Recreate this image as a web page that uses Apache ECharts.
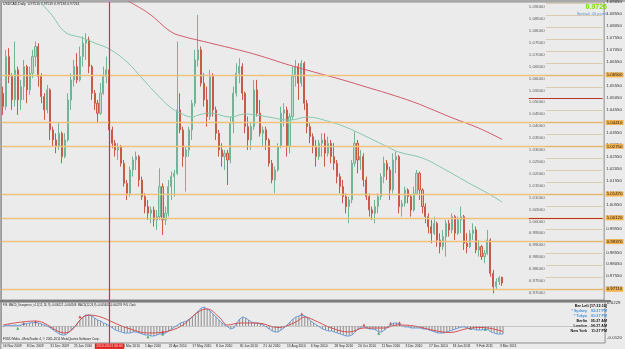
<!DOCTYPE html>
<html>
<head>
<meta charset="utf-8">
<script src="https://cdn.jsdelivr.net/npm/echarts@6.0.0/dist/echarts.min.js"></script>
<style>
html, body { margin: 0; padding: 0; background: #ebebeb; }
#chart { width: 625px; height: 349px; }
</style>
</head>
<body>
<div id="chart"></div>
<script>
// one slot = 2 trading days, 204 slots across the window (chart shift on the right)
var slotCount = 204;

var dateLabels = ['16 Nov 2009', '8 Dec 2009', '31 Dec 2009', '25 Jan 2010', '16 Feb 2010', '10 Mar 2010',
  '1 Apr 2010', '22 Apr 2010', '17 May 2010', '8 Jun 2010', '30 Jun 2010', '21 Jul 2010', '13 Aug 2010',
  '6 Sep 2010', '28 Sep 2010', '20 Oct 2010', '11 Nov 2010', '3 Dec 2010', '27 Dec 2010', '18 Jan 2011',
  '9 Feb 2011', '3 Mar 2011'];

var barOpen = [
  1.0523,1.0467,1.0677,1.0593,1.0495,1.0621,1.0495,1.0551,1.0635,1.0537,
  1.0607,1.0677,1.0719,1.0593,1.0509,1.0453,1.0537,1.0369,1.0327,1.0299,
  1.0355,1.0257,1.0327,1.0495,1.0579,1.0635,1.0579,1.0677,1.0733,1.0747,
  1.0635,1.0523,1.0481,1.0439,1.0523,1.0593,1.0621,1.0369,1.0313,1.0285,
  1.0299,1.0229,1.0145,1.0103,1.0201,1.0243,1.0257,1.0159,1.0089,1.0047,
  1.0019,1.0033,0.9991,1.0005,1.0131,0.9991,1.0019,1.0131,1.0173,1.0187,
  1.0453,1.0369,1.0257,1.0285,1.0369,1.0481,1.0663,1.0705,1.0565,1.0495,
  1.0425,1.0593,1.0453,1.0355,1.0285,1.0257,1.0271,1.0243,1.0397,1.0523,
  1.0607,1.0635,1.0523,1.0383,1.0327,1.0383,1.0537,1.0439,1.0355,1.0369,
  1.0327,1.0229,1.0159,1.0201,1.0299,1.0439,1.0453,1.0299,1.0425,1.0593,
  1.0635,1.0565,1.0649,1.0481,1.0383,1.0341,1.0299,1.0257,1.0313,1.0327,
  1.0271,1.0313,1.0257,1.0229,1.0173,1.0131,1.0089,1.0047,1.0075,1.0229,
  1.0313,1.0243,1.0257,1.0159,1.0089,1.0033,1.0019,1.0047,1.0089,1.0173,
  1.0229,1.0201,1.0117,1.0243,1.0257,1.0047,1.0061,1.0117,1.0089,1.0033,
  1.0103,1.0187,1.0117,1.0047,1.0005,0.9963,0.9935,0.9977,0.9907,0.9879,
  0.9921,0.9977,0.9949,1.0005,0.9935,0.9991,1.0005,0.9893,0.9879,0.9935,
  0.9949,0.9865,0.9879,0.9837,0.9851,0.9907,0.9767,0.9711,0.9732,0.9751
];
var barClose = [
  1.0467,1.0677,1.0593,1.0495,1.0621,1.0495,1.0551,1.0635,1.0537,1.0607,
  1.0677,1.0719,1.0593,1.0509,1.0453,1.0537,1.0369,1.0327,1.0299,1.0355,
  1.0257,1.0327,1.0495,1.0579,1.0635,1.0579,1.0677,1.0733,1.0747,1.0635,
  1.0523,1.0481,1.0439,1.0523,1.0593,1.0621,1.0369,1.0313,1.0285,1.0299,
  1.0229,1.0145,1.0103,1.0201,1.0243,1.0257,1.0159,1.0089,1.0047,1.0019,
  1.0033,0.9991,1.0005,1.0131,0.9991,1.0019,1.0131,1.0173,1.0187,1.0453,
  1.0369,1.0257,1.0285,1.0369,1.0481,1.0663,1.0705,1.0565,1.0495,1.0425,
  1.0593,1.0453,1.0355,1.0285,1.0257,1.0271,1.0243,1.0397,1.0523,1.0607,
  1.0635,1.0523,1.0383,1.0327,1.0383,1.0537,1.0439,1.0355,1.0369,1.0327,
  1.0229,1.0159,1.0201,1.0299,1.0439,1.0453,1.0299,1.0425,1.0593,1.0635,
  1.0565,1.0649,1.0481,1.0383,1.0341,1.0299,1.0257,1.0313,1.0327,1.0271,
  1.0313,1.0257,1.0229,1.0173,1.0131,1.0089,1.0047,1.0075,1.0229,1.0313,
  1.0243,1.0257,1.0159,1.0089,1.0033,1.0019,1.0047,1.0089,1.0173,1.0229,
  1.0201,1.0117,1.0243,1.0257,1.0047,1.0061,1.0117,1.0089,1.0033,1.0103,
  1.0187,1.0117,1.0047,1.0005,0.9963,0.9935,0.9977,0.9907,0.9879,0.9921,
  0.9977,0.9949,1.0005,0.9935,0.9991,1.0005,0.9893,0.9879,0.9935,0.9949,
  0.9865,0.9879,0.9837,0.9851,0.9907,0.9767,0.9711,0.9732,0.9748,0.9726
];
var barHigh = [
  1.0551,1.0705,1.0712,1.0607,1.0740,1.0635,1.0579,1.0663,1.0642,1.0635,
  1.0705,1.0740,1.0733,1.0607,1.0523,1.0558,1.0544,1.0383,1.0355,1.0397,
  1.0362,1.0355,1.0523,1.0607,1.0663,1.0691,1.0719,1.0761,1.0775,1.0761,
  1.0642,1.0537,1.0495,1.0565,1.0635,1.0677,1.0635,1.0383,1.0327,1.0313,
  1.0306,1.0243,1.0159,1.0215,1.0257,1.0278,1.0264,1.0173,1.0103,1.0075,
  1.0047,1.0047,1.0033,1.0208,1.0145,1.0047,1.0159,1.0194,1.0201,1.0740,
  1.0523,1.0383,1.0299,1.0383,1.0495,1.0705,1.0852,1.0719,1.0607,1.0551,
  1.0621,1.0607,1.0467,1.0369,1.0313,1.0285,1.0285,1.0425,1.0551,1.0649,
  1.0670,1.0649,1.0530,1.0425,1.0397,1.0579,1.0579,1.0495,1.0383,1.0383,
  1.0334,1.0243,1.0215,1.0313,1.0467,1.0481,1.0467,1.0439,1.0635,1.0663,
  1.0649,1.0663,1.0656,1.0495,1.0397,1.0355,1.0327,1.0327,1.0355,1.0355,
  1.0341,1.0327,1.0313,1.0243,1.0187,1.0159,1.0103,1.0089,1.0243,1.0362,
  1.0327,1.0285,1.0271,1.0173,1.0103,1.0047,1.0075,1.0103,1.0187,1.0257,
  1.0243,1.0215,1.0271,1.0278,1.0264,1.0075,1.0131,1.0124,1.0096,1.0131,
  1.0201,1.0194,1.0124,1.0061,1.0019,0.9991,1.0005,0.9984,0.9935,0.9949,
  0.9991,0.9991,1.0019,1.0012,1.0005,1.0047,1.0012,0.9935,0.9949,0.9977,
  0.9963,0.9907,0.9886,0.9865,0.9949,0.9914,0.9781,0.9746,0.9755,0.9752
];
var barLow = [
  1.0432,1.0453,1.0565,1.0453,1.0467,1.0432,1.0453,1.0495,1.0481,1.0516,
  1.0586,1.0635,1.0551,1.0481,1.0411,1.0439,1.0327,1.0299,1.0271,1.0285,
  1.0229,1.0250,1.0320,1.0453,1.0551,1.0565,1.0572,1.0635,1.0663,1.0607,
  1.0495,1.0453,1.0397,1.0432,1.0516,1.0565,1.0355,1.0292,1.0257,1.0243,
  1.0215,1.0131,1.0075,1.0089,1.0173,1.0201,1.0131,1.0075,1.0019,0.9991,
  0.9977,0.9963,0.9949,0.9991,0.9928,0.9970,1.0005,1.0075,1.0089,1.0180,
  1.0355,1.0215,1.0110,1.0257,1.0327,1.0467,1.0635,1.0551,1.0467,1.0383,
  1.0411,1.0425,1.0327,1.0257,1.0215,1.0201,1.0138,1.0229,1.0355,1.0509,
  1.0565,1.0495,1.0355,1.0285,1.0285,1.0369,1.0425,1.0341,1.0299,1.0285,
  1.0215,1.0145,1.0103,1.0194,1.0292,1.0383,1.0257,1.0271,1.0411,1.0551,
  1.0495,1.0551,1.0453,1.0355,1.0313,1.0271,1.0215,1.0243,1.0257,1.0215,
  1.0257,1.0229,1.0201,1.0145,1.0103,1.0061,1.0019,0.9977,1.0061,1.0215,
  1.0187,1.0201,1.0131,1.0075,1.0005,0.9991,0.9977,1.0019,1.0075,1.0145,
  1.0159,1.0075,1.0103,1.0187,1.0019,1.0005,1.0047,1.0061,1.0005,1.0026,
  1.0096,1.0075,1.0019,0.9977,0.9935,0.9893,0.9928,0.9879,0.9851,0.9865,
  0.9837,0.9921,0.9935,0.9907,0.9928,0.9935,0.9865,0.9851,0.9872,0.9907,
  0.9851,0.9837,0.9823,0.9809,0.9844,0.9753,0.9683,0.9697,0.9718,0.9714
];

// moving averages, read at a few slots
var maSlowSlot = [40, 49, 57, 62, 66, 73, 80, 86, 97, 105, 115, 123, 130, 139, 146, 152, 161, 169];
var maSlowVal = [1.0925, 1.0861, 1.0780, 1.0758, 1.0746, 1.0725, 1.0704, 1.0684, 1.0641, 1.0613, 1.0579,
  1.0549, 1.0523, 1.0486, 1.0451, 1.0420, 1.0377, 1.0329];
var maFastSlot = [10, 16, 21, 27, 31, 36, 42, 47, 53, 57, 60, 64, 66, 70, 77, 82, 86, 90, 97, 103, 111, 116,
  122, 129, 134, 142, 150, 159, 164, 169];
var maFastVal = [1.0935, 1.0860, 1.0780, 1.0755, 1.0734, 1.0709, 1.0654, 1.0587, 1.0507, 1.0461, 1.0440,
  1.0423, 1.0431, 1.0440, 1.0423, 1.0436, 1.0431, 1.0423, 1.0410, 1.0423, 1.0402, 1.0381, 1.0347, 1.0305,
  1.0276, 1.0251, 1.0200, 1.0137, 1.0104, 1.0066];

// price levels drawn at the right, and support/resistance lines
var levelValues = [1.09, 1.085, 1.08, 1.075, 1.07, 1.065, 1.06, 1.055, 1.05, 1.045, 1.04, 1.035, 1.03,
  1.025, 1.02, 1.015, 1.01, 1.005, 1.00, 0.995, 0.99, 0.985, 0.98, 0.975, 0.97];
var redLevels = [1.05, 1.00];
var srLevels = [1.0650, 1.0441, 1.0275, 1.0147, 1.0012, 0.9937, 0.9711];
var bidPrice = 0.97261;
var priceTicks = [0.9705, 0.9755, 0.9805, 0.9855, 0.9905, 0.9955, 1.0005, 1.0055, 1.0105, 1.0155, 1.0205,
  1.0255, 1.0305, 1.0355, 1.0405, 1.0455, 1.0505, 1.0555, 1.0605, 1.0655, 1.0705, 1.0755, 1.0805, 1.0855, 1.0905];

// MACD histogram per slot
var macdValues = [
  -0.0005,0.0005,0.001,0.0005,0.001,0.0005,0.001,0.002,0.0025,0.003,
  0.0035,0.004,0.003,0.002,0.001,0,-0.002,-0.004,-0.006,-0.008,
  -0.009,-0.009,-0.007,-0.004,-0.001,0.002,0.006,0.009,0.011,0.011,
  0.010,0.008,0.006,0.005,0.003,0.002,0,-0.002,-0.004,-0.005,
  -0.006,-0.007,-0.007,-0.007,-0.006,-0.006,-0.007,-0.008,-0.009,-0.009,
  -0.010,-0.010,-0.009,-0.008,-0.008,-0.007,-0.005,-0.003,-0.001,0.001,
  0.003,0.004,0.005,0.007,0.009,0.012,0.015,0.018,0.019,0.017,
  0.015,0.012,0.009,0.006,0.003,0.001,-0.001,-0.003,-0.002,0.003,
  0.007,0.009,0.008,0.006,0.004,0.003,0.003,0.002,0.001,-0.001,
  -0.003,-0.005,-0.006,-0.006,-0.004,-0.002,0.001,0.004,0.007,0.009,
  0.010,0.011,0.010,0.008,0.005,0.003,0.001,-0.001,-0.003,-0.004,
  -0.005,-0.005,-0.006,-0.007,-0.008,-0.009,-0.010,-0.010,-0.009,-0.006,
  -0.003,-0.001,-0.001,-0.002,-0.003,-0.003,-0.004,-0.006,-0.006,-0.004,
  -0.001,0.001,0.003,0.003,0.002,0,-0.001,-0.001,-0.002,-0.002,
  -0.002,-0.002,-0.003,-0.003,-0.004,-0.005,-0.006,-0.007,-0.007,-0.007,
  -0.006,-0.005,-0.004,-0.003,-0.002,-0.001,-0.001,-0.002,-0.003,-0.003,
  -0.004,-0.004,-0.004,-0.003,-0.004,-0.006,-0.007,-0.008,-0.008,-0.008
];
var signalSlot = [0, 11, 21, 29, 42, 49, 59, 66, 69, 73, 76, 80, 86, 93, 99, 102, 105, 111, 117, 122, 129,
  133, 139, 145, 151, 157, 162, 169];
var signalVal = [0.001, 0.005, -0.007, 0.011, -0.002, -0.007, -0.002, 0.014, 0.017, 0.009, 0.001, 0.003, 0.003,
  -0.0015, 0.004, 0.009, 0.006, -0.002, -0.006, -0.002, -0.002, 0.001, 0, -0.004, -0.0065, -0.0025, -0.0015, -0.0055];
var macdTicks = [0.0229, -0.012];
var upArrows = [[7, 0.0027], [11, 0.0043], [26, 0.0093], [54, -0.0057], [101, 0.012], [122, 0.001], [131, 0.0027], [134, 0.0033]];
var downArrows = [[5, -0.0023], [49, -0.0107], [54, -0.008], [127, -0.0073], [158, -0.0023], [163, -0.0033]];

var markerSlot = 36; // 2010.03.01
var levelLabelSlot = 178, levelLineSlot = 184, lastSlot = slotCount - 1;

var font = 'Liberation Sans';
var chart = echarts.init(document.getElementById('chart'));

var slotNames = [];
for (var i = 0; i < slotCount; i++) slotNames.push(String(i));
var candles = barOpen.map(function (o, i) { return [o, barClose[i], barLow[i], barHigh[i]]; });
function pairs(xs, ys) { return xs.map(function (x, i) { return [x, ys[i]]; }); }

var gridBase = { left: 1.5, right: 15, show: true, backgroundColor: '#ebebeb', borderColor: '#8f8f8f', borderWidth: 1 };
var markerStyle = { color: '#e62a2a', width: 1.2, type: 'solid', opacity: 1 };
var markerLine = { silent: true, symbol: ['none', 'none'], animation: false, lineStyle: markerStyle };

function clockText(x, y, text, color, align) {
  return { type: 'text', x: x, y: y, silent: true,
    style: { text: text, fill: color, font: 'bold 3.7px ' + font, textAlign: align || 'right', textVerticalAlign: 'middle' } };
}

var option = {
  animation: false,
  backgroundColor: '#ebebeb',
  grid: [
    Object.assign({ top: 2, height: 298 }, gridBase),
    Object.assign({ top: 302, height: 41 }, gridBase)
  ],
  xAxis: [
    { type: 'category', gridIndex: 0, data: slotNames, axisLine: { show: false }, axisTick: { show: false }, axisLabel: { show: false }, splitLine: { show: false } },
    { type: 'category', gridIndex: 1, data: slotNames, axisLine: { show: false }, axisTick: { show: false }, splitLine: { show: false },
      axisLabel: { interval: 7, align: 'left', margin: 1.2, fontSize: 3.3, color: '#222', fontFamily: font,
        formatter: function (v) { var i = Number(v); return (i % 8 === 0 && dateLabels[i / 8]) ? dateLabels[i / 8] : ''; } } }
  ],
  yAxis: [
    { type: 'value', gridIndex: 0, position: 'right', min: 0.9655, max: 1.0906, splitLine: { show: false },
      axisLine: { show: false }, axisTick: { show: false },
      axisLabel: { customValues: priceTicks, margin: 2, fontSize: 4.4, color: '#333', fontFamily: font,
        formatter: function (v) { return v.toFixed(5); } } },
    { type: 'value', gridIndex: 1, position: 'right', min: -0.017, max: 0.024, splitLine: { show: false },
      axisLine: { show: false }, axisTick: { show: false },
      axisLabel: { customValues: macdTicks, margin: 2, fontSize: 4.4, color: '#333', fontFamily: font,
        formatter: function (v) { return v.toFixed(4); } } }
  ],
  series: [
    {
      type: 'candlestick', xAxisIndex: 0, yAxisIndex: 0, data: candles, barWidth: 1.6,
      itemStyle: { color: '#bcdccb', color0: '#ecb7aa', borderColor: '#72b496', borderColor0: '#c95a47', borderWidth: 1 },
      markLine: {
        silent: true, symbol: ['none', 'none'], animation: false,
        data: srLevels.map(function (v) {
          return { yAxis: v, lineStyle: { color: '#f0c27e', width: 1.3, type: 'solid' },
            label: { show: true, position: 'end', distance: 1.5, formatter: v.toFixed(5), fontSize: 4.4, fontFamily: font,
              color: '#222', backgroundColor: '#f4b24c', padding: [0.5, 1] } };
        }).concat([
          { yAxis: bidPrice, lineStyle: { opacity: 0 },
            label: { show: true, position: 'end', distance: 1.5, formatter: bidPrice.toFixed(5), fontSize: 4.4, fontFamily: font,
              color: '#fff', backgroundColor: '#000', padding: [0.5, 1] } }
        ])
      }
    },
    { type: 'line', xAxisIndex: 0, yAxisIndex: 0, data: pairs(maSlowSlot, maSlowVal), smooth: 0.4, showSymbol: false,
      lineStyle: { color: '#d05c6c', width: 1 }, silent: true,
      markLine: Object.assign({ label: { show: false }, data: [{ xAxis: markerSlot, lineStyle: markerStyle }] }, markerLine) },
    { type: 'line', xAxisIndex: 0, yAxisIndex: 0, data: pairs(maFastSlot, maFastVal), smooth: 0.4, showSymbol: false,
      lineStyle: { color: '#86c8aa', width: 1 }, silent: true },
    {
      type: 'scatter', xAxisIndex: 0, yAxisIndex: 0, silent: true,
      data: levelValues.map(function (v) { return [levelLabelSlot, v]; }),
      symbolSize: 0.01, itemStyle: { color: 'rgba(0,0,0,0)' },
      label: { show: true, position: 'right', distance: 0, offset: [0, 3.5], fontSize: 4.4, color: '#3a3a3a', fontFamily: font,
        formatter: function (p) { return p.value[1].toFixed(5); } },
      markLine: {
        silent: true, symbol: ['none', 'none'], animation: false, label: { show: false },
        data: levelValues.map(function (v) {
          var red = redLevels.indexOf(v) >= 0;
          return [
            { coord: [red ? levelLabelSlot : levelLineSlot, v],
              lineStyle: red ? { color: '#b8322c', width: 1.2, type: 'solid' } : { color: '#c9ad76', width: 1, type: 'dotted' } },
            { coord: [lastSlot, v] }
          ];
        })
      }
    },
    {
      type: 'bar', xAxisIndex: 1, yAxisIndex: 1, data: macdValues, barWidth: 1, silent: true,
      itemStyle: { color: '#8c8c8c' },
      markLine: {
        silent: true, symbol: ['none', 'none'], animation: false,
        data: [{ yAxis: 0, lineStyle: { color: '#a0a0a0', width: 1, type: 'dotted' }, label: { show: false } }]
      }
    },
    { type: 'line', xAxisIndex: 1, yAxisIndex: 1, data: macdValues, showSymbol: false, silent: true,
      lineStyle: { color: '#4f8fde', width: 0.8 } },
    { type: 'line', xAxisIndex: 1, yAxisIndex: 1, data: pairs(signalSlot, signalVal), smooth: 0.4, showSymbol: false, silent: true,
      lineStyle: { color: '#d84040', width: 0.9 },
      markLine: Object.assign({
        label: { show: true, position: 'start', distance: 0.5, formatter: '2010.03.01 00:00', fontSize: 3.4, fontFamily: font,
          color: '#ffe0e0', backgroundColor: '#e0201c', padding: [1.2, 1.5] },
        data: [{ xAxis: markerSlot, lineStyle: markerStyle }] }, markerLine) },
    { type: 'scatter', xAxisIndex: 1, yAxisIndex: 1, data: upArrows, symbol: 'triangle', symbolSize: 3, silent: true,
      itemStyle: { color: '#cc2020' } },
    { type: 'scatter', xAxisIndex: 1, yAxisIndex: 1, data: downArrows, symbol: 'triangle', symbolSize: 3, silent: true,
      itemStyle: { color: '#1f9a3a' } }
  ],
  graphic: [
    { type: 'rect', shape: { x: 0, y: 0, width: 625, height: 2 }, style: { fill: '#a8a8a8' }, silent: true },
    { type: 'rect', shape: { x: 0, y: 0, width: 1.5, height: 349 }, style: { fill: '#a8a8a8' }, silent: true },
    { type: 'rect', shape: { x: 0, y: 300, width: 611, height: 2.2 }, style: { fill: '#7c7c7c' }, silent: true },
    { type: 'text', x: 3, y: 4.2, silent: true,
      style: { text: 'USDCAD,Daily  0.97510 0.97519 0.97136 0.97261', fill: '#222', font: '3.4px ' + font, textVerticalAlign: 'middle' } },
    { type: 'text', x: 607, y: 6.8, silent: true,
      style: { text: '0.9726', fill: '#7ddc00', font: 'bold 7px ' + font, textAlign: 'right', textVerticalAlign: 'middle' } },
    { type: 'text', x: 608, y: 14, silent: true,
      style: { text: 'Spread: 40 points', fill: '#5f95d2', font: '4px ' + font, textAlign: 'right', textVerticalAlign: 'middle' } },
    { type: 'text', x: 3, y: 305.6, silent: true,
      style: { text: 'FIS_MACD_Divergence_v1.1(12, 26, 9) -0.006122 -0.004508  MACD(12,26,9) -0.005602 -0.004293  P4L Clock',
        fill: '#222', font: '2.7px ' + font, textVerticalAlign: 'middle' } },
    { type: 'text', x: 3, y: 339.3, silent: true,
      style: { text: 'FXDD Malta - MetaTrader 4, \u00a9 2001-2011 MetaQuotes Software Corp.', fill: '#222',
        font: '3.1px ' + font, textVerticalAlign: 'middle' } },
    clockText(607, 305.7, 'Bar Left [17:32:16]', '#111'),
    clockText(587, 310.7, '* Sydney', '#3f8fd8'), clockText(607, 310.7, '03:27 PM', '#3f8fd8'),
    clockText(587, 315.7, '* Tokyo', '#3f8fd8'), clockText(607, 315.7, '01:27 PM', '#3f8fd8'),
    clockText(587, 320.7, 'Berlin', '#111'), clockText(607, 320.7, '05:27 AM', '#111'),
    clockText(587, 325.7, 'London', '#111'), clockText(607, 325.7, '04:27 AM', '#111'),
    clockText(587, 330.7, 'New York', '#111'), clockText(607, 330.7, '11:27 PM', '#111')
  ]
};

chart.setOption(option);
</script>
</body>
</html>
